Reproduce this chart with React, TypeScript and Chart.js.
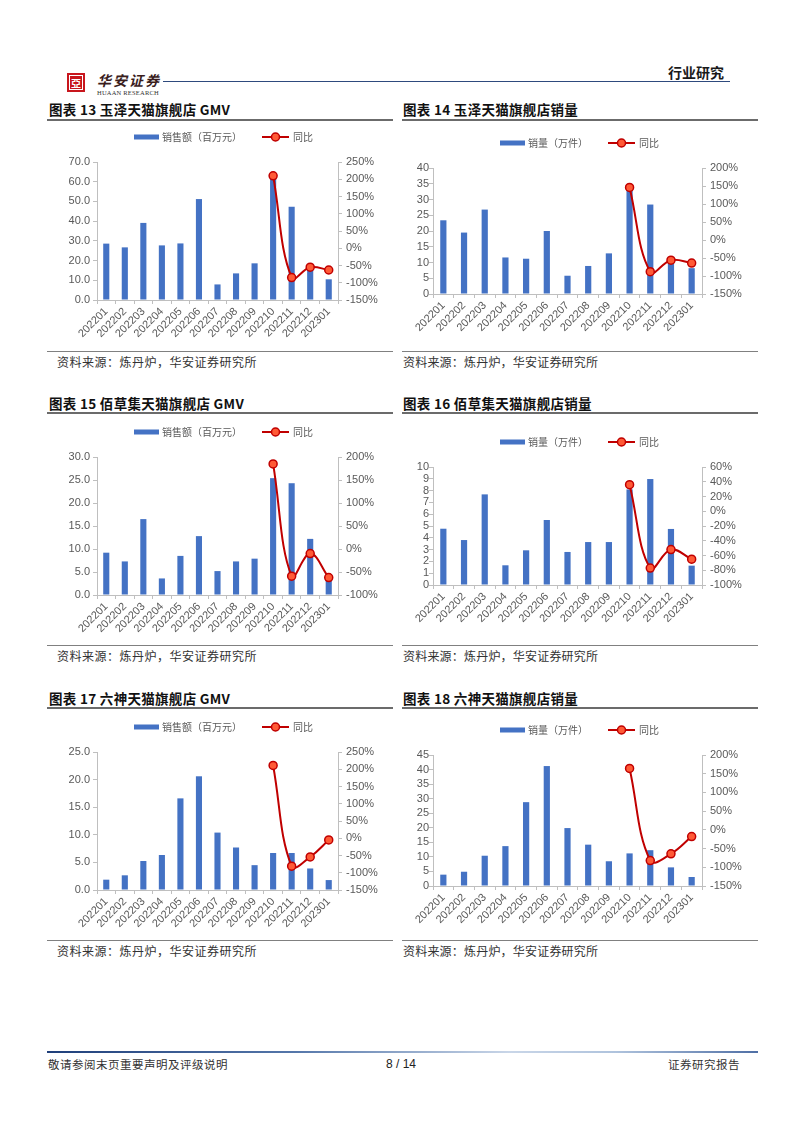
import React, { useEffect, useRef } from 'react';
import { Chart, registerables } from 'chart.js';

Chart.register(...registerables);

// ---------- data ----------
const months = ['202201', '202202', '202203', '202204', '202205', '202206', '202207', '202208', '202209', '202210', '202211', '202212', '202301'];

const yuzeGmv = [28.6, 26.7, 39.1, 27.7, 28.7, 51.2, 7.9, 13.5, 18.6, 62.0, 47.3, 15.5, 10.5];
const yuzeGmvYoy = [null, null, null, null, null, null, null, null, null, 210, -85, -55, -63];

const yuzeVol = [23.4, 19.5, 26.8, 11.6, 11.2, 20.0, 5.8, 8.9, 12.9, 34.5, 28.4, 10.8, 8.2];
const yuzeVolYoy = [null, null, null, null, null, null, null, null, null, 146, -88, -56, -64];

const baicaoGmv = [9.2, 7.3, 16.5, 3.6, 8.5, 12.8, 5.2, 7.3, 7.9, 25.4, 24.3, 12.2, 3.2];
const baicaoGmvYoy = [null, null, null, null, null, null, null, null, null, 185, -59, -10, -62];

const baicaoVol = [4.77, 3.81, 7.68, 1.67, 2.94, 5.51, 2.8, 3.64, 3.64, 8.1, 8.98, 4.75, 1.64];
const baicaoVolYoy = [null, null, null, null, null, null, null, null, null, 36, -77, -52, -65];

const liushenGmv = [1.87, 2.66, 5.25, 6.34, 16.6, 20.6, 10.4, 7.7, 4.5, 6.7, 6.7, 3.9, 1.8];
const liushenGmvYoy = [null, null, null, null, null, null, null, null, null, 211, -81, -54, -5];

const liushenVol = [3.9, 4.9, 10.4, 13.7, 28.8, 41.2, 19.9, 14.2, 8.5, 11.2, 12.3, 6.4, 3.1];
const liushenVolYoy = [null, null, null, null, null, null, null, null, null, 164, -82, -64, -18];

const gmvLabel = '销售额（百万元）';
const volLabel = '销量（万件）';
const yoyLabel = '同比';

// ---------- styles ----------
const CJK = '"Noto Sans CJK SC", "Noto Sans", sans-serif';
const LATIN = '"Liberation Sans", Arial, sans-serif';
const AXIS = '#BFBFBF';
const TICK = '#595959';
const BAR = '#4472C4';
const LINE = '#C00000';
const POINT = '#FF5A36';

type Spec = {
  left: number; top: number; width: number; height: number;
  plotLeft: number; plotTop: number; plotRight: number; plotBottom: number;
  legendX: number; legendY: number;
  barLabel: string; bars: number[]; yoy: (number | null)[];
  yMax: number; yStep: number; yDec: number; yPad: number;
  rMin: number; rMax: number; rStep: number;
  barPct: number;
};

function ComboChart({ spec }: { spec: Spec }) {
  const ref = useRef<HTMLCanvasElement>(null);
  useEffect(() => {
    const s = spec;
    const legendPlugin = {
      id: 'customLegend',
      afterDraw(chart: any) {
        const ctx = chart.ctx;
        const y = s.legendY - s.top;
        let x = s.legendX - s.left;
        ctx.save();
        ctx.font = `10px ${CJK}`;
        ctx.textBaseline = 'middle';
        ctx.textAlign = 'left';
        ctx.fillStyle = BAR;
        ctx.fillRect(x, y - 2.5, 25, 5);
        x += 28;
        ctx.fillStyle = TICK;
        ctx.fillText(s.barLabel, x, y + 0.5);
        x += ctx.measureText(s.barLabel).width + 20;
        ctx.strokeStyle = LINE;
        ctx.lineWidth = 2;
        ctx.beginPath();
        ctx.moveTo(x, y);
        ctx.lineTo(x + 27, y);
        ctx.stroke();
        ctx.beginPath();
        ctx.arc(x + 13.5, y, 4, 0, Math.PI * 2);
        ctx.fillStyle = POINT;
        ctx.fill();
        ctx.lineWidth = 1.5;
        ctx.stroke();
        x += 31;
        ctx.fillStyle = TICK;
        ctx.fillText(yoyLabel, x, y + 0.5);
        ctx.restore();
      },
    };
    const font = { family: LATIN, size: 11 };
    const chart = new Chart(ref.current as HTMLCanvasElement, {
      type: 'bar',
      data: {
        labels: months,
        datasets: [
          {
            type: 'line',
            label: yoyLabel,
            data: s.yoy,
            yAxisID: 'y1',
            borderColor: LINE,
            borderWidth: 2,
            tension: 0.4,
            pointRadius: 4,
            pointBackgroundColor: POINT,
            pointBorderColor: LINE,
            pointBorderWidth: 1.5,
            order: 1,
          } as any,
          {
            type: 'bar',
            label: s.barLabel,
            data: s.bars,
            yAxisID: 'y',
            backgroundColor: BAR,
            barPercentage: s.barPct,
            categoryPercentage: 1,
            order: 2,
          },
        ],
      },
      options: {
        responsive: false,
        animation: false,
        devicePixelRatio: 1,
        layout: { padding: { top: s.plotTop - s.top, left: 0, right: 0, bottom: 0 } },
        plugins: { legend: { display: false }, tooltip: { enabled: false } },
        scales: {
          x: {
            offset: true,
            grid: { display: true, drawOnChartArea: false, drawTicks: true, tickLength: 4, color: AXIS, offset: true },
            border: { display: true, color: AXIS },
            ticks: { color: TICK, font, minRotation: 45, maxRotation: 45, autoSkip: false, padding: 1 },
            afterFit: (sc: any) => { sc.height = s.top + s.height - s.plotBottom; },
          },
          y: {
            position: 'left',
            min: 0,
            max: s.yMax,
            grid: { display: true, drawOnChartArea: false, drawTicks: true, tickLength: 4, color: AXIS },
            border: { display: true, color: AXIS },
            ticks: { color: TICK, font, stepSize: s.yStep, autoSkip: false, padding: s.yPad, callback: (v: any) => Number(v).toFixed(s.yDec) },
            afterFit: (sc: any) => { sc.width = s.plotLeft - s.left; },
          },
          y1: {
            position: 'right',
            min: s.rMin,
            max: s.rMax,
            grid: { display: true, drawOnChartArea: false, drawTicks: true, tickLength: 4, color: AXIS },
            border: { display: true, color: AXIS },
            ticks: { color: TICK, font, stepSize: s.rStep, autoSkip: false, padding: 4, callback: (v: any) => `${v}%` },
            afterFit: (sc: any) => { sc.width = s.left + s.width - s.plotRight; },
          },
        },
      } as any,
      plugins: [legendPlugin],
    });
    return () => chart.destroy();
  }, [spec]);
  return (
    <canvas
      ref={ref}
      width={spec.width}
      height={spec.height}
      style={{ position: 'absolute', left: spec.left, top: spec.top, width: spec.width, height: spec.height }}
    />
  );
}

const specs: Spec[] = [
  { left: 48, top: 122, width: 345, height: 227, plotLeft: 97, plotTop: 162, plotRight: 338, plotBottom: 300, legendX: 134, legendY: 137,
    barLabel: gmvLabel, bars: yuzeGmv, yoy: yuzeGmvYoy, yMax: 70, yStep: 10, yDec: 1, yPad: 3, rMin: -150, rMax: 250, rStep: 50, barPct: 0.33 },
  { left: 403, top: 122, width: 355, height: 227, plotLeft: 433, plotTop: 168, plotRight: 702, plotBottom: 294, legendX: 500, legendY: 143,
    barLabel: volLabel, bars: yuzeVol, yoy: yuzeVolYoy, yMax: 40, yStep: 5, yDec: 0, yPad: 0, rMin: -150, rMax: 200, rStep: 50, barPct: 0.3 },
  { left: 48, top: 415, width: 345, height: 229, plotLeft: 97, plotTop: 457, plotRight: 338, plotBottom: 595, legendX: 134, legendY: 432,
    barLabel: gmvLabel, bars: baicaoGmv, yoy: baicaoGmvYoy, yMax: 30, yStep: 5, yDec: 1, yPad: 3, rMin: -100, rMax: 200, rStep: 50, barPct: 0.33 },
  { left: 403, top: 415, width: 355, height: 229, plotLeft: 433, plotTop: 467, plotRight: 702, plotBottom: 585, legendX: 500, legendY: 442,
    barLabel: volLabel, bars: baicaoVol, yoy: baicaoVolYoy, yMax: 10, yStep: 1, yDec: 0, yPad: 0, rMin: -100, rMax: 60, rStep: 20, barPct: 0.3 },
  { left: 48, top: 710, width: 345, height: 229, plotLeft: 97, plotTop: 752, plotRight: 338, plotBottom: 890, legendX: 134, legendY: 727,
    barLabel: gmvLabel, bars: liushenGmv, yoy: liushenGmvYoy, yMax: 25, yStep: 5, yDec: 1, yPad: 3, rMin: -150, rMax: 250, rStep: 50, barPct: 0.33 },
  { left: 403, top: 710, width: 355, height: 229, plotLeft: 433, plotTop: 755, plotRight: 702, plotBottom: 886, legendX: 500, legendY: 730,
    barLabel: volLabel, bars: liushenVol, yoy: liushenVolYoy, yMax: 45, yStep: 5, yDec: 0, yPad: 0, rMin: -150, rMax: 200, rStep: 50, barPct: 0.3 },
];

const titles = [
  '图表 13 玉泽天猫旗舰店 GMV',
  '图表 14 玉泽天猫旗舰店销量',
  '图表 15 佰草集天猫旗舰店 GMV',
  '图表 16 佰草集天猫旗舰店销量',
  '图表 17 六神天猫旗舰店 GMV',
  '图表 18 六神天猫旗舰店销量',
];
const sourceText = '资料来源：炼丹炉，华安证券研究所';

const rows = [
  { titleCY: 109, titleLine: 118.5, srcLine: 351, srcCY: 362 },
  { titleCY: 403, titleLine: 412, srcLine: 645, srcCY: 656 },
  { titleCY: 698, titleLine: 707, srcLine: 940, srcCY: 951 },
];

function Text({ x, cy, size, children, style }: any) {
  return (
    <div
      style={{
        position: 'absolute', left: x, top: cy - 10, height: 20, lineHeight: '20px',
        fontSize: size, whiteSpace: 'nowrap', fontFamily: CJK, ...style,
      }}
    >
      {children}
    </div>
  );
}

export default function App() {
  return (
    <div style={{ position: 'absolute', left: 0, top: 0, width: 802, height: 1133, background: '#fff', overflow: 'hidden' }}>
      {/* header */}
      <div style={{ position: 'absolute', left: 67, top: 73, width: 18, height: 19, background: '#C8161D' }}>
        <div style={{ position: 'absolute', left: 2, top: 2, width: 12, height: 13, border: '1px solid #fff' }} />
        <div style={{ position: 'absolute', left: 0, top: 0, width: 18, height: 19, color: '#fff', fontSize: 10, lineHeight: '19px', textAlign: 'center', fontWeight: 700, fontFamily: CJK }}>亞</div>
      </div>
      <Text x={97} cy={80} size={14} style={{ color: '#3a1d1d', letterSpacing: 2, fontStyle: 'italic', fontWeight: 700 }}>华安证券</Text>
      <Text x={97} cy={93} size={6.5} style={{ color: '#333', fontFamily: '"Liberation Serif", serif', letterSpacing: 0.2 }}>HUAAN RESEARCH</Text>
      <div style={{ position: 'absolute', left: 163, top: 81, width: 567, height: 1, background: '#2E4A7D' }} />
      <Text x={668} cy={72} size={14} style={{ color: '#1a1a1a', fontWeight: 700 }}>行业研究</Text>

      {/* rows */}
      {rows.map((r, i) => (
        <React.Fragment key={i}>
          <Text x={49} cy={r.titleCY} size={13.5} style={{ fontWeight: 700, color: '#111', letterSpacing: 0.3 }}>{titles[i * 2]}</Text>
          <Text x={403} cy={r.titleCY} size={13.5} style={{ fontWeight: 700, color: '#111', letterSpacing: 0.3 }}>{titles[i * 2 + 1]}</Text>
          <div style={{ position: 'absolute', left: 47, top: r.titleLine, width: 346, height: 2, background: '#6b6b6b' }} />
          <div style={{ position: 'absolute', left: 402, top: r.titleLine, width: 356, height: 2, background: '#6b6b6b' }} />
          <div style={{ position: 'absolute', left: 47, top: r.srcLine, width: 346, height: 1, background: '#808080' }} />
          <div style={{ position: 'absolute', left: 402, top: r.srcLine, width: 356, height: 1, background: '#808080' }} />
          <Text x={57} cy={r.srcCY} size={12} style={{ color: '#333', letterSpacing: 0.5 }}>{sourceText}</Text>
          <Text x={403} cy={r.srcCY} size={12} style={{ color: '#333', letterSpacing: 0.2 }}>{sourceText}</Text>
        </React.Fragment>
      ))}

      {specs.map((s, i) => <ComboChart key={i} spec={s} />)}

      {/* footer */}
      <div style={{ position: 'absolute', left: 47, top: 1051, width: 711, height: 2, background: 'linear-gradient(to right, #1F3F7A 0%, #5577AA 35%, #C9D6E8 65%, #AFC3DD 80%, #4F6FA5 100%)' }} />
      <Text x={48} cy={1064} size={11.5} style={{ color: '#333', letterSpacing: 0.5 }}>敬请参阅末页重要声明及评级说明</Text>
      <Text x={386} cy={1064} size={12} style={{ color: '#222', fontFamily: LATIN }}>8 / 14</Text>
      <Text x={668} cy={1064} size={11.5} style={{ color: '#333', letterSpacing: 0.5 }}>证券研究报告</Text>
    </div>
  );
}
